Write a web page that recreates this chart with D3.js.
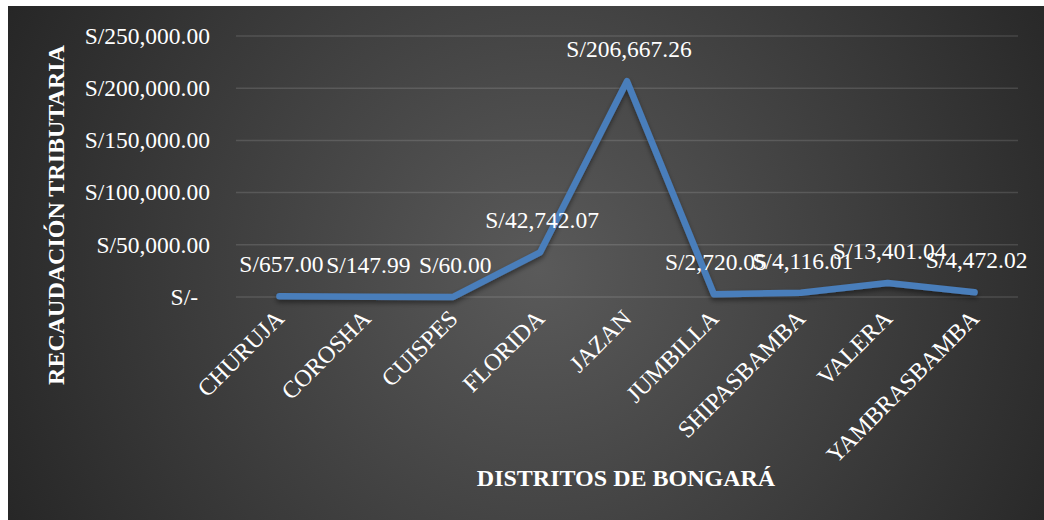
<!DOCTYPE html>
<html>
<head>
<meta charset="utf-8">
<script src="https://cdn.jsdelivr.net/npm/d3@7"></script>
<style>
  html, body { margin: 0; padding: 0; background: #fff; }
  svg { display: block; }
  text { font-family: "Liberation Serif", "Times New Roman", serif; fill: #fff; }
</style>
</head>
<body>
<svg id="chart"></svg>
<script>
// data
const districts = ["CHURUJA", "COROSHA", "CUISPES", "FLORIDA", "JAZAN", "JUMBILLA", "SHIPASBAMBA", "VALERA", "YAMBRASBAMBA"];
const recaudacion = [657.00, 147.99, 60.00, 42742.07, 206667.26, 2720.05, 4116.01, 13401.04, 4472.02];
const yTicks = [0, 50000, 100000, 150000, 200000, 250000];

const width = 1044, height = 520;
const plot = { left: 236, right: 1018, top: 36, bottom: 297 };

const svg = d3.select("#chart").attr("width", width).attr("height", height);
const defs = svg.append("defs");

const grad = defs.append("radialGradient")
  .attr("id", "bg")
  .attr("gradientUnits", "userSpaceOnUse")
  .attr("cx", 540).attr("cy", 270).attr("r", 620);
grad.append("stop").attr("offset", "0%").attr("stop-color", "#5a5a5a");
grad.append("stop").attr("offset", "100%").attr("stop-color", "#242424");

const shadow = defs.append("filter").attr("id", "shadow")
  .attr("x", "-10%").attr("y", "-10%").attr("width", "120%").attr("height", "130%");
shadow.append("feDropShadow")
  .attr("dx", 0).attr("dy", 3).attr("stdDeviation", 2.5)
  .attr("flood-color", "#000").attr("flood-opacity", 0.45);

// chart area
svg.append("rect")
  .attr("x", 8).attr("y", 6)
  .attr("width", width - 8).attr("height", height - 6)
  .attr("fill", "url(#bg)");

const x = d3.scalePoint()
  .domain(districts)
  .range([plot.left, plot.right])
  .padding(0.5);

const y = d3.scaleLinear()
  .domain([0, 250000])
  .range([plot.bottom, plot.top]);

const money = d3.format(",.2f");

// gridlines
svg.append("g")
  .selectAll("line")
  .data(yTicks)
  .join("line")
  .attr("x1", plot.left).attr("x2", plot.right)
  .attr("y1", d => y(d)).attr("y2", d => y(d))
  .attr("stroke", "rgba(255,255,255,0.13)")
  .attr("stroke-width", 1.5);

// y tick labels
svg.append("g")
  .selectAll("text")
  .data(yTicks)
  .join("text")
  .attr("x", 210)
  .attr("dx", d => d === 0 ? -12 : 0)
  .attr("y", d => y(d))
  .attr("dy", "0.33em")
  .attr("text-anchor", "end")
  .style("font-size", "23.5px")
  .text(d => d === 0 ? "S/-" : "S/" + money(d));

// x tick labels, rotated
svg.append("g")
  .selectAll("text")
  .data(districts)
  .join("text")
  .attr("text-anchor", "end")
  .attr("transform", d => `translate(${x(d) + 6},${plot.bottom + 23}) rotate(-45)`)
  .style("font-size", "24px")
  .text(d => d);

// line
const line = d3.line()
  .x((d, i) => x(districts[i]))
  .y(d => y(d));

svg.append("path")
  .datum(recaudacion)
  .attr("d", line)
  .attr("fill", "none")
  .attr("stroke", "#4a7ebb")
  .attr("stroke-width", 6.5)
  .attr("stroke-linecap", "round")
  .attr("stroke-linejoin", "round")
  .attr("filter", "url(#shadow)");

// data labels
svg.append("g")
  .selectAll("text")
  .data(recaudacion)
  .join("text")
  .attr("x", (d, i) => x(districts[i]) + 2)
  .attr("y", d => y(d) - 24)
  .attr("text-anchor", "middle")
  .style("font-size", "23.5px")
  .text(d => "S/" + money(d));

// axis titles
svg.append("text")
  .attr("x", 626).attr("y", 486)
  .attr("text-anchor", "middle")
  .style("font-size", "24px")
  .style("font-weight", "bold")
  .text("DISTRITOS DE BONGARÁ");

svg.append("text")
  .attr("transform", "translate(64,215) rotate(-90)")
  .attr("text-anchor", "middle")
  .style("font-size", "24px")
  .style("font-weight", "bold")
  .text("RECAUDACIÓN TRIBUTARIA");
</script>
</body>
</html>
